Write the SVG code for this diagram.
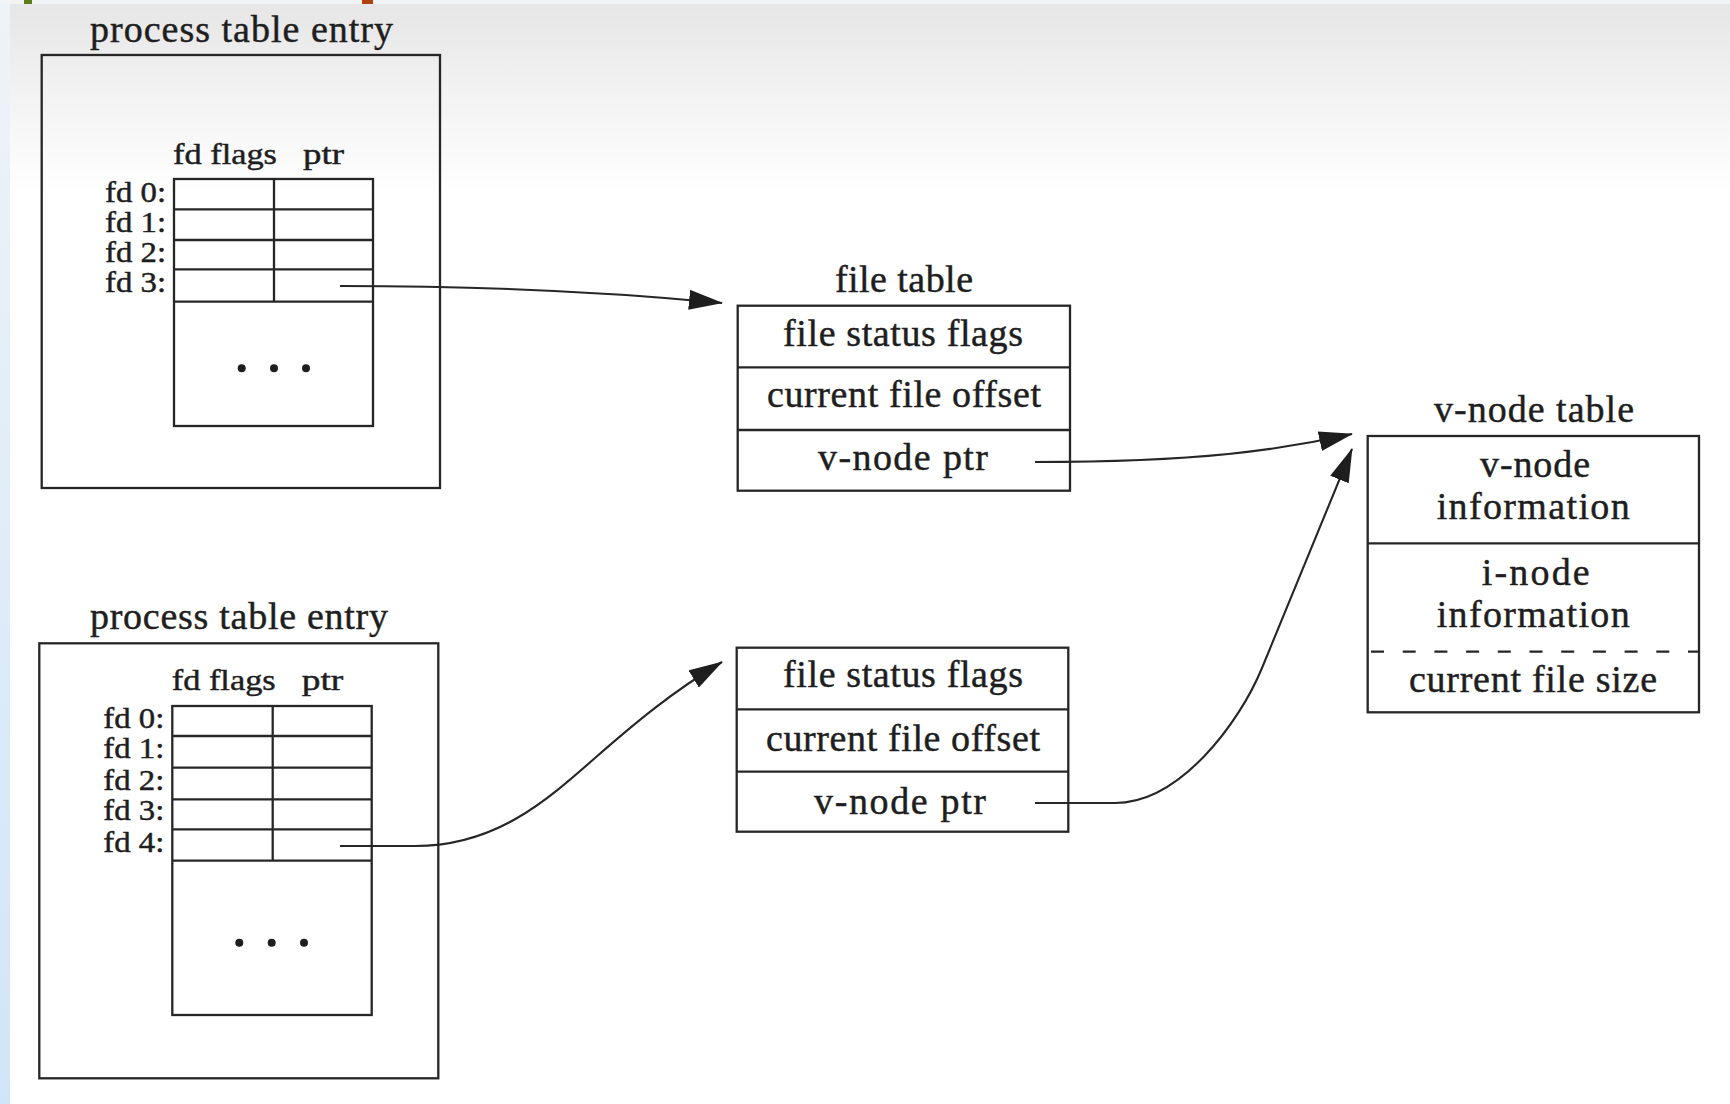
<svg xmlns="http://www.w3.org/2000/svg" width="1730" height="1104" viewBox="0 0 1730 1104">
<style>
.bx{fill:none;stroke:#262626;stroke-width:2.3}
.ln{stroke:#262626;stroke-width:2.3}
.dash{stroke:#262626;stroke-width:2.3;stroke-dasharray:13 18.7}
.t{font-family:"Liberation Serif","Times New Roman",serif;fill:#1e1e1e;stroke:#1e1e1e;stroke-width:0.45}
.lg{font-size:38px}
.sm{font-size:30px}
.dot{fill:#1e1e1e}
.conn{fill:none;stroke:#262626;stroke-width:2.1}
</style>
<defs>
<marker id="ah" markerUnits="userSpaceOnUse" viewBox="0 0 34 20" refX="33" refY="10" markerWidth="34" markerHeight="20" orient="auto">
<path d="M0,0 L34,10 L0,20 z" fill="#1e1e1e"/>
</marker>
<linearGradient id="topg" x1="0" y1="0" x2="0" y2="1">
<stop offset="0" stop-color="#e6e6e6"/>
<stop offset="0.5" stop-color="#f3f3f3"/>
<stop offset="1" stop-color="#ffffff"/>
</linearGradient>
<linearGradient id="leftg" x1="0" y1="0" x2="0" y2="1">
<stop offset="0" stop-color="#eef3f8"/>
<stop offset="1" stop-color="#d1e5f8"/>
</linearGradient>
</defs>
<g id="background">
<rect x="0" y="0" width="1730" height="1104" fill="#ffffff"/>
<rect x="10" y="4" width="1720" height="190" fill="url(#topg)"/>
<rect x="0" y="0" width="10" height="1104" fill="url(#leftg)"/>
<rect x="0" y="0" width="1730" height="4" fill="#f2f3f5"/>
<rect x="24" y="0" width="8" height="4" fill="#5b7d1c"/>
<rect x="362" y="0" width="11" height="4" fill="#b2400e"/>
</g>
<g id="proc1">
<text class="t lg" x="90" y="42" textLength="303">process table entry</text>
<rect class="bx" x="41.7" y="55" width="398.3" height="433"/>
<text class="t sm" x="173" y="164" textLength="104" lengthAdjust="spacingAndGlyphs">fd flags</text>
<text class="t sm" x="303" y="164" textLength="41" lengthAdjust="spacingAndGlyphs">ptr</text>
<text class="t sm" x="105" y="202" textLength="61" lengthAdjust="spacingAndGlyphs">fd 0:</text>
<text class="t sm" x="105" y="232" textLength="61" lengthAdjust="spacingAndGlyphs">fd 1:</text>
<text class="t sm" x="105" y="262" textLength="61" lengthAdjust="spacingAndGlyphs">fd 2:</text>
<text class="t sm" x="105" y="292" textLength="61" lengthAdjust="spacingAndGlyphs">fd 3:</text>
<rect class="bx" x="174" y="179" width="199" height="247"/>
<line class="ln" x1="174" y1="209.3" x2="373" y2="209.3"/>
<line class="ln" x1="174" y1="240" x2="373" y2="240"/>
<line class="ln" x1="174" y1="269.3" x2="373" y2="269.3"/>
<line class="ln" x1="174" y1="301.7" x2="373" y2="301.7"/>
<line class="ln" x1="274" y1="179" x2="274" y2="301.7"/>
<circle class="dot" cx="241.7" cy="368.3" r="4"/>
<circle class="dot" cx="274" cy="368.3" r="4"/>
<circle class="dot" cx="306" cy="368.3" r="4"/>
</g>
<g id="proc2">
<text class="t lg" x="90" y="629.3" textLength="298">process table entry</text>
<rect class="bx" x="39.3" y="643.3" width="399" height="435"/>
<text class="t sm" x="171.7" y="690" textLength="104" lengthAdjust="spacingAndGlyphs">fd flags</text>
<text class="t sm" x="301.7" y="690" textLength="41.6" lengthAdjust="spacingAndGlyphs">ptr</text>
<text class="t sm" x="103.3" y="728.3" textLength="61" lengthAdjust="spacingAndGlyphs">fd 0:</text>
<text class="t sm" x="103.3" y="758.3" textLength="61" lengthAdjust="spacingAndGlyphs">fd 1:</text>
<text class="t sm" x="103.3" y="790" textLength="61" lengthAdjust="spacingAndGlyphs">fd 2:</text>
<text class="t sm" x="103.3" y="820" textLength="61" lengthAdjust="spacingAndGlyphs">fd 3:</text>
<text class="t sm" x="103.3" y="851.7" textLength="61" lengthAdjust="spacingAndGlyphs">fd 4:</text>
<rect class="bx" x="172.3" y="706" width="199.4" height="309"/>
<line class="ln" x1="172.3" y1="736" x2="371.7" y2="736"/>
<line class="ln" x1="172.3" y1="767.7" x2="371.7" y2="767.7"/>
<line class="ln" x1="172.3" y1="799.3" x2="371.7" y2="799.3"/>
<line class="ln" x1="172.3" y1="829.3" x2="371.7" y2="829.3"/>
<line class="ln" x1="172.3" y1="860.7" x2="371.7" y2="860.7"/>
<line class="ln" x1="272.7" y1="706" x2="272.7" y2="860.7"/>
<circle class="dot" cx="239.3" cy="942.7" r="4"/>
<circle class="dot" cx="271.7" cy="942.7" r="4"/>
<circle class="dot" cx="304" cy="942.7" r="4"/>
</g>
<g id="filetable1">
<text class="t lg" x="835" y="292" textLength="138">file table</text>
<rect class="bx" x="737.7" y="305.7" width="332.3" height="185"/>
<line class="ln" x1="737.7" y1="367.3" x2="1070" y2="367.3"/>
<line class="ln" x1="737.7" y1="430" x2="1070" y2="430"/>
<text class="t lg" x="783" y="345.5" textLength="240">file status flags</text>
<text class="t lg" x="767" y="407" textLength="274">current file offset</text>
<text class="t lg" x="818" y="469.5" textLength="170">v-node ptr</text>
</g>
<g id="filetable2">
<rect class="bx" x="736.7" y="647.7" width="331.6" height="184"/>
<line class="ln" x1="736.7" y1="709.3" x2="1068.3" y2="709.3"/>
<line class="ln" x1="736.7" y1="771.7" x2="1068.3" y2="771.7"/>
<text class="t lg" x="783" y="687" textLength="240">file status flags</text>
<text class="t lg" x="766" y="750.5" textLength="274">current file offset</text>
<text class="t lg" x="814" y="813.5" textLength="172">v-node ptr</text>
</g>
<g id="vnode">
<text class="t lg" x="1434" y="422" textLength="200">v-node table</text>
<rect class="bx" x="1367.7" y="436" width="331.3" height="276.3"/>
<line class="ln" x1="1367.7" y1="543.3" x2="1699" y2="543.3"/>
<line class="dash" x1="1371" y1="651.7" x2="1699" y2="651.7"/>
<text class="t lg" x="1480" y="477" textLength="110">v-node</text>
<text class="t lg" x="1436.7" y="519" textLength="193">information</text>
<text class="t lg" x="1481.7" y="585" textLength="108">i-node</text>
<text class="t lg" x="1436.7" y="627" textLength="193">information</text>
<text class="t lg" x="1409" y="691.5" textLength="248">current file size</text>
</g>
<g id="connectors">
<path class="conn" d="M340,286 C500,286 620,293 722,303" marker-end="url(#ah)"/>
<path class="conn" d="M340,846 L415,846 C495,846 545,802 595,758 C635,723 672,692 722,662" marker-end="url(#ah)"/>
<path class="conn" d="M1035,462 C1200,462 1280,450 1352,434" marker-end="url(#ah)"/>
<path class="conn" d="M1035,803 L1115,803 C1180,803 1239.5,722.75 1262,668 L1352,449" marker-end="url(#ah)"/>
</g>
</svg>
